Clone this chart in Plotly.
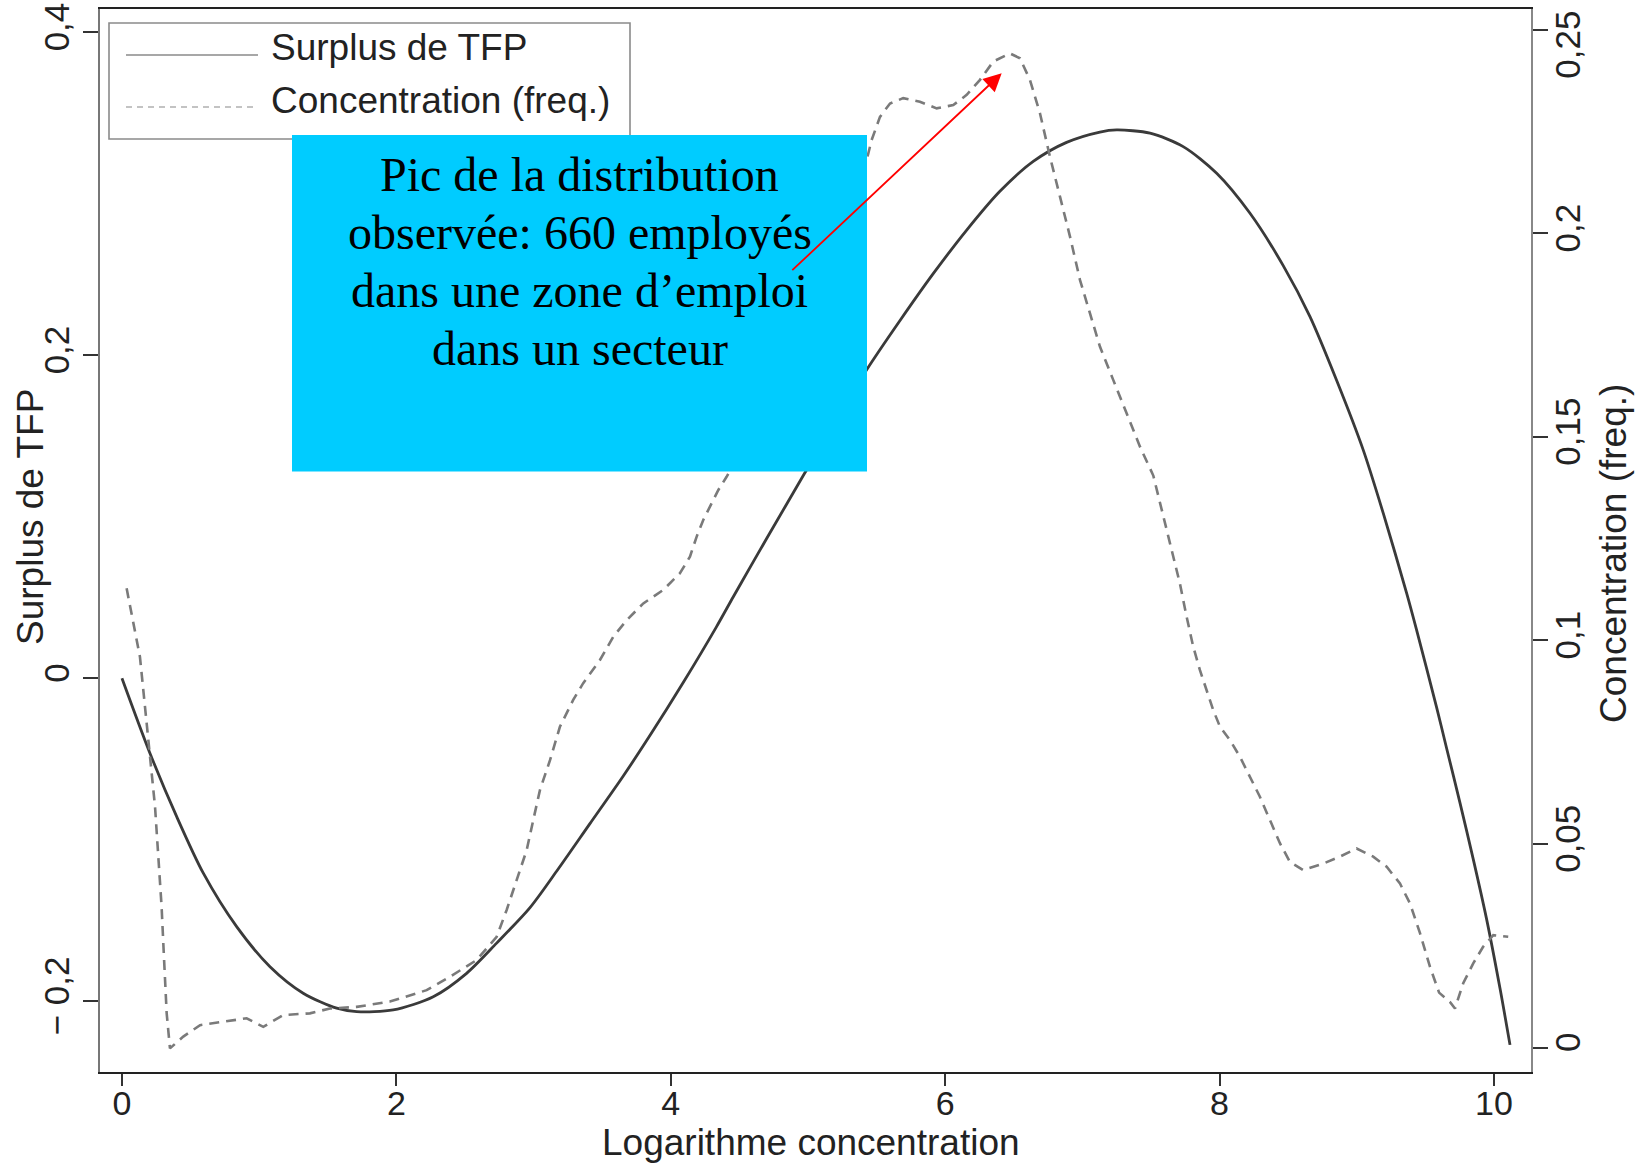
import plotly.graph_objects as go

# ---------------- data ----------------
series_names = ["Surplus de TFP", "Concentration (freq.)"]

x_tfp = [0.0, 0.204, 0.399, 0.593, 0.836, 1.079, 1.321, 1.565, 1.711, 1.977, 2.269, 2.512,
         2.731, 2.974, 3.168, 3.411, 3.654, 3.848, 4.092, 4.334, 4.456, 4.577, 4.699, 4.966,
         5.2, 5.428, 5.671, 5.913, 6.157, 6.399, 6.642, 6.885, 7.128, 7.25, 7.493, 7.735,
         7.979, 8.222, 8.464, 8.659, 8.853, 9.047, 9.193, 9.364, 9.436, 9.582, 9.654, 9.752,
         9.849, 9.946, 10.044, 10.117]
y_tfp = [0.0, -0.0464, -0.0857, -0.1207, -0.1538, -0.1786, -0.1950, -0.2043, -0.2064, -0.2054,
         -0.1972, -0.1827, -0.1640, -0.1420, -0.1195, -0.0900, -0.0605, -0.0355, -0.0025, 0.0320,
         0.0505, 0.0685, 0.0865, 0.1255, 0.159, 0.1910, 0.2215, 0.2505, 0.2775, 0.3015, 0.3200,
         0.3318, 0.3382, 0.3395, 0.3375, 0.3292, 0.3127, 0.2879, 0.2555, 0.2239, 0.1845, 0.1414,
         0.1022, 0.0526, 0.030, -0.018, -0.043, -0.077, -0.112, -0.149, -0.192, -0.227]

x_conc = [0.034, 0.082, 0.131, 0.168, 0.204, 0.241, 0.265, 0.289, 0.306, 0.326, 0.350, 0.447,
          0.569, 0.738, 0.909, 1.030, 1.176, 1.370, 1.516, 1.711, 1.953, 2.221, 2.391, 2.585,
          2.731, 2.804, 2.877, 2.950, 2.998, 3.047, 3.120, 3.192, 3.289, 3.362, 3.484, 3.581,
          3.679, 3.800, 3.945, 4.067, 4.140, 4.189, 4.237, 4.286, 4.346, 4.407, 4.6, 4.8, 5.0,
          5.2, 5.35, 5.428, 5.464, 5.525, 5.598, 5.694, 5.816, 5.938, 6.059, 6.157, 6.254,
          6.351, 6.472, 6.545, 6.618, 6.691, 6.764, 6.837, 6.910, 6.983, 7.055, 7.128, 7.225,
          7.323, 7.420, 7.517, 7.663, 7.711, 7.760, 7.808, 7.857, 7.906, 7.954, 8.003, 8.076,
          8.149, 8.222, 8.294, 8.367, 8.440, 8.513, 8.610, 8.756, 8.878, 8.999, 9.120, 9.218,
          9.315, 9.388, 9.461, 9.534, 9.600, 9.679, 9.716, 9.776, 9.849, 9.922, 9.995, 10.104]
y_conc = [0.1128, 0.1042, 0.0960, 0.0837, 0.0714, 0.0592, 0.0469, 0.0346, 0.0223, 0.0084,
          -0.0002, 0.0027, 0.0055, 0.0063, 0.0072, 0.0051, 0.0080, 0.0084, 0.0096, 0.0100,
          0.0113, 0.0141, 0.0174, 0.0215, 0.0272, 0.0338, 0.0411, 0.0485, 0.0559, 0.0633,
          0.0706, 0.0788, 0.0854, 0.0895, 0.0952, 0.1009, 0.1050, 0.1091, 0.1124, 0.1165,
          0.1206, 0.1255, 0.1296, 0.1328, 0.1369, 0.1402, 0.152, 0.166, 0.181, 0.199, 0.211,
          0.2180, 0.2229, 0.2286, 0.2319, 0.2332, 0.2323, 0.2307, 0.2315, 0.2340, 0.2377,
          0.2422, 0.2442, 0.2430, 0.2377, 0.2295, 0.2188, 0.2090, 0.1992, 0.1885, 0.1803,
          0.1722, 0.1640, 0.1558, 0.1476, 0.1405, 0.1206, 0.1140, 0.1058, 0.0985, 0.0927,
          0.0878, 0.0829, 0.0788, 0.0755, 0.0714, 0.0665, 0.0616, 0.0559, 0.0502, 0.0456,
          0.0436, 0.0452, 0.0469, 0.0489, 0.0469, 0.0444, 0.0403, 0.0354, 0.0281, 0.0198,
          0.0135, 0.0112, 0.0096, 0.0158, 0.0207, 0.0248, 0.0276, 0.0272]

x_tickvals = [0, 2, 4, 6, 8, 10]
x_ticktext = ["0", "2", "4", "6", "8", "10"]
yl_tickvals = [-0.2, 0, 0.2, 0.4]
yl_ticktext = ["\u2212 0,2", "0", "0,2", "0,4"]
yr_tickvals = [0, 0.05, 0.1, 0.15, 0.2, 0.25]
# the top label sits below its tick in the reference (kept inside the figure): drawn separately
yr_ticktext = ["0", "0,05", "0,1", "0,15", "0,2", ""]
yr_top_label = "0,25"

x_title = "Logarithme concentration"
yl_title = "Surplus de TFP"
yr_title = "Concentration (freq.)"

note_lines = ["Pic de la distribution", "observée: 660 employés",
              "dans une zone d\u2019emploi", "dans un secteur"]
arrow_head = (6.412, 0.3746)   # peak of the observed distribution (x, left-axis y)
arrow_tail = (4.875, 0.2518)

# ---------------- geometry helpers (pixels -> paper) ----------------
W, H = 1649, 1163
L, R, T, B = 100, 1531, 9, 1072


def px(x):
    return (x - L) / (R - L)


def py(y):
    return (B - y) / (B - T)


SANS = "Liberation Sans, Arial, Helvetica, sans-serif"
SERIF = "Liberation Serif, Times New Roman, serif"
TXT = "#222222"

fig = go.Figure()
fig.add_trace(go.Scatter(x=x_tfp, y=y_tfp, mode="lines", name=series_names[0],
                         line=dict(color="#3a3a3a", width=2.8, shape="spline", smoothing=0.8),
                         yaxis="y"))
fig.add_trace(go.Scatter(x=x_conc, y=y_conc, mode="lines", name=series_names[1],
                         line=dict(color="#7a7a7a", width=2.6, dash="10px,7px"),
                         yaxis="y2"))

shapes = [
    # legend box
    dict(type="rect", xref="paper", yref="paper", x0=px(109), x1=px(630), y0=py(139), y1=py(23),
         line=dict(color="#8a8a8a", width=1.6), fillcolor="white", layer="above"),
    dict(type="line", xref="paper", yref="paper", x0=px(126), x1=px(258), y0=py(55), y1=py(55),
         line=dict(color="#8a8a8a", width=1.6), layer="above"),
    dict(type="line", xref="paper", yref="paper", x0=px(126), x1=px(258), y0=py(107), y1=py(107),
         line=dict(color="#b0b0b0", width=1.6, dash="6px,5px"), layer="above"),
    # cyan note box
    dict(type="rect", xref="paper", yref="paper", x0=px(292), x1=px(867), y0=py(471.5), y1=py(135),
         line=dict(width=0), fillcolor="#00CCFF", layer="above"),
]

annotations = [
    dict(x=px(269), y=py(48), xref="paper", yref="paper", text=series_names[0], showarrow=False,
         xanchor="left", yanchor="middle", font=dict(family=SANS, size=37, color=TXT)),
    dict(x=px(269), y=py(100), xref="paper", yref="paper", text=series_names[1], showarrow=False,
         xanchor="left", yanchor="middle", font=dict(family=SANS, size=37, color=TXT)),
    # axis titles
    dict(x=px(811), y=py(1142.5), xref="paper", yref="paper", text=x_title, showarrow=False,
         xanchor="center", yanchor="middle", font=dict(family=SANS, size=37, color=TXT)),
    dict(x=px(30), y=py(517), xref="paper", yref="paper", text=yl_title, showarrow=False,
         textangle=-90, xanchor="center", yanchor="middle", font=dict(family=SANS, size=37, color=TXT)),
    dict(x=px(1613), y=py(554), xref="paper", yref="paper", text=yr_title, showarrow=False,
         textangle=-90, xanchor="center", yanchor="middle", font=dict(family=SANS, size=37, color=TXT)),
    # top label of the right axis
    dict(x=px(1568), y=yr_tickvals[-1], xref="paper", yref="y2", yshift=-15, text=yr_top_label,
         showarrow=False, textangle=-90, xanchor="center", yanchor="middle",
         font=dict(family=SANS, size=35, color=TXT)),
    # red arrow
    dict(x=arrow_head[0], y=arrow_head[1], xref="x", yref="y",
         ax=arrow_tail[0], ay=arrow_tail[1], axref="x", ayref="y",
         text="", showarrow=True, arrowhead=2, arrowsize=2.0, arrowwidth=1.8,
         arrowcolor="#ff0000", standoff=0, startstandoff=0),
]
for line, yc in zip(note_lines, [174.5, 232.5, 290, 348]):
    annotations.append(dict(x=px(579.5), y=py(yc), xref="paper", yref="paper", text=line,
                            showarrow=False, xanchor="center", yanchor="middle",
                            font=dict(family=SERIF, size=48, color="black")))

fig.update_layout(
    template="none",
    width=W, height=H, autosize=False,
    margin=dict(l=L, r=W - R, t=T, b=H - B, pad=0),
    paper_bgcolor="white", plot_bgcolor="white",
    showlegend=False, hovermode=False,
    font=dict(family=SANS, color=TXT),
    shapes=shapes, annotations=annotations,
    xaxis=dict(range=[-0.16, 10.27], tickvals=x_tickvals, ticktext=x_ticktext,
               ticks="outside", ticklen=12, tickwidth=2, tickcolor="#333333",
               ticklabelstandoff=-12, automargin=False,
               showline=True, linecolor="#222222", linewidth=2.2, mirror=True,
               showgrid=False, zeroline=False, tickfont=dict(family=SANS, size=34, color=TXT)),
    yaxis=dict(range=[-0.2438, 0.4144], tickvals=yl_tickvals, ticktext=yl_ticktext,
               ticks="outside", ticklen=15, tickwidth=2, tickcolor="#333333", tickangle=-90,
               automargin=False,
               showline=True, linecolor="#777777", linewidth=2.2,
               showgrid=False, zeroline=False, tickfont=dict(family=SANS, size=35, color=TXT)),
    yaxis2=dict(range=[-0.0060, 0.2551], tickvals=yr_tickvals, ticktext=yr_ticktext,
                overlaying="y", side="right", anchor="x",
                ticks="outside", ticklen=15, tickwidth=2, tickcolor="#333333", tickangle=-90,
                ticklabelstandoff=-10, automargin=False,
                showline=True, linecolor="#888888", linewidth=2.2,
                showgrid=False, zeroline=False, tickfont=dict(family=SANS, size=35, color=TXT)),
)

fig.write_html("out.html")
